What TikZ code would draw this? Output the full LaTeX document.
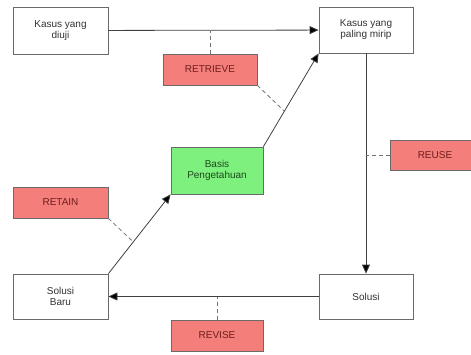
\documentclass[tikz,border=0pt]{standalone}
\usepackage{fontspec}
\setmainfont{Liberation Sans}
\usetikzlibrary{arrows.meta,calc}

\definecolor{boxline}{HTML}{6A6A6A}
\definecolor{redfill}{HTML}{F47E7A}
\definecolor{redtext}{HTML}{6E1E1E}
\definecolor{greenfill}{HTML}{7EF07E}
\definecolor{greentext}{HTML}{1E4A1E}

\begin{document}
\begin{tikzpicture}[x=1pt, y=-1pt,
  box/.style={draw=boxline, thick, fill=white, align=center, text=black!80,
    font=\fontsize{10}{11}\selectfont, inner sep=0pt},
  redbox/.style={box, fill=redfill, text=redtext, minimum height=31pt},
  greenbox/.style={box, fill=greenfill, text=greentext},
  link/.style={draw=black!75, thick, -{Triangle[length=9pt,width=8pt,fill=black]}},
  note/.style={draw=black!55, thick, dash pattern=on 4pt off 3pt}]
  \useasboundingbox (0,0) rectangle (471,354);

  \node[box, minimum width=95pt, minimum height=47pt] (diuji) at (60.5,30.5) {Kasus yang\\diuji};
  \node[box, minimum width=94pt, minimum height=46pt] (mirip) at (366,30) {Kasus yang\\paling mirip};
  \node[greenbox, minimum width=92pt, minimum height=47pt] (basis) at (217,170.5) {Basis\\Pengetahuan};
  \node[box, minimum width=95pt, minimum height=45pt] (baru) at (60.5,296.5) {Solusi\\Baru};
  \node[box, minimum width=94pt, minimum height=45pt] (solusi) at (366,296.5) {Solusi};

  \node[redbox, minimum width=94pt] (retrieve) at (210,69.5) {RETRIEVE};
  \node[redbox, minimum width=95pt] (retain) at (60.5,202.5) {RETAIN};
  \node[redbox, minimum width=90pt, minimum height=30pt] (reuse) at (435,155) {REUSE};
  \node[redbox, minimum width=92pt] (revise) at (217,335.5) {REVISE};

  \draw[link] (diuji) -- (mirip);
  \draw[link] (basis.north east) -- (mirip.south west);
  \draw[link] (mirip.south) -- (solusi.north);
  \draw[link] (solusi.west) -- (baru.east);
  \draw[link] (baru.north east) -- (basis.south west);

  \coordinate (onup) at ($(basis.north east)!0.38!(mirip.south west)$);
  \coordinate (onlow) at ($(baru.north east)!0.4!(basis.south west)$);
  \draw[note] (retrieve.north) -- (retrieve.north |- diuji.east);
  \draw[note] (retrieve.south east) -- (onup);
  \draw[note] (retain.south east) -- (onlow);
  \draw[note] (reuse.west) -- (mirip.south |- reuse.west);
  \draw[note] (revise.north) -- (revise.north |- solusi.west);
\end{tikzpicture}
\end{document}
